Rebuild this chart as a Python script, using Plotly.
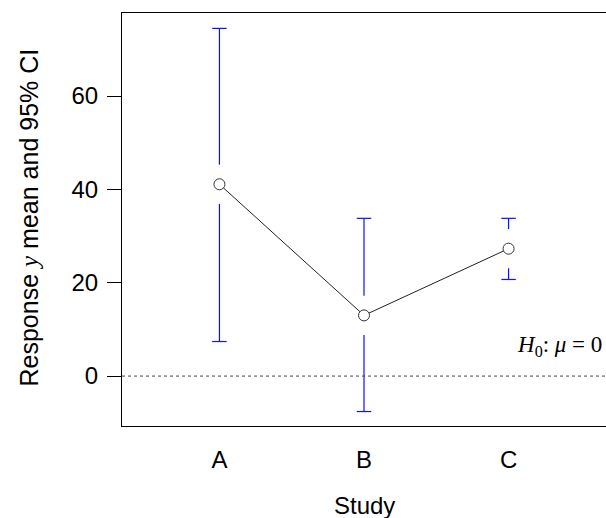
import plotly.graph_objects as go

studies = ["A", "B", "C"]
xpos = [1, 2, 3]
means = [41.1, 13.0, 27.3]
lower = [7.4, -7.6, 20.7]
upper = [74.5, 33.8, 33.8]
yticks = [0, 20, 40, 60]

gap = 4.2      # gap around the point (data units)
capw = 0.05    # half-width of caps (x units)

fig = go.Figure()

# error bars with gaps around the point
ex, ey = [], []
for x, m, lo, up in zip(xpos, means, lower, upper):
    ex += [x, x, None, x - capw, x + capw, None, x, x, None, x - capw, x + capw, None]
    ey += [m + gap, up, None, up, up, None, m - gap, lo, None, lo, lo, None]
fig.add_trace(go.Scatter(x=ex, y=ey, mode="lines", line=dict(color="#1010ff", width=1.2),
                         hoverinfo="skip", showlegend=False))

# connecting line and points
fig.add_trace(go.Scatter(x=xpos, y=means, mode="lines", line=dict(color="#222", width=1),
                         showlegend=False))
fig.add_trace(go.Scatter(x=xpos, y=means, mode="markers",
                         marker=dict(symbol="circle", size=11, color="white",
                                     line=dict(color="#333", width=1)),
                         showlegend=False))

# reference line at 0
fig.add_shape(type="line", xref="paper", x0=0, x1=1, yref="y", y0=0, y1=0,
              line=dict(color="#444", width=1, dash="dot"))

fig.add_annotation(xref="paper", x=1, xanchor="right", xshift=-2, yref="y", y=0,
                   yanchor="bottom", yshift=14, showarrow=False,
                   text="<i>H</i><sub>0</sub>: <i>μ</i> = 0",
                   font=dict(family="Liberation Serif, Times New Roman, serif", size=23, color="black"))

# axis titles
fig.add_annotation(xref="paper", x=0, xshift=-94, xanchor="center", yref="paper", y=0.5,
                   yshift=2, yanchor="middle", textangle=-90, showarrow=False,
                   text="Response <i><span style='font-family:Liberation Serif, serif'>y</span></i> mean and 95% CI",
                   font=dict(family="Liberation Sans, Arial, sans-serif", size=25, color="black"))
fig.add_annotation(xref="paper", x=0.5, xanchor="center", yref="paper", y=0, yshift=-79,
                   yanchor="middle", showarrow=False, text="Study",
                   font=dict(family="Liberation Sans, Arial, sans-serif", size=24, color="black"))

fig.update_layout(
    width=606, height=518,
    margin=dict(l=122, r=0, t=13, b=92),
    plot_bgcolor="white", paper_bgcolor="white",
    font=dict(family="Liberation Sans, Arial, sans-serif", size=24, color="black"),
    xaxis=dict(range=[0.326, 3.674], tickvals=xpos, ticktext=studies, ticks="",
               showgrid=False, zeroline=False, showline=True, mirror=True,
               linecolor="black", linewidth=1, ticklabelstandoff=12),
    yaxis=dict(range=[-10.7, 77.8], tickvals=yticks, ticks="outside", ticklen=14,
               tickcolor="black", showgrid=False, zeroline=False, showline=True,
               linecolor="black", linewidth=1, ticklabelstandoff=4),
)

fig.write_html("out.html", config={"displayModeBar": False},
               post_script="document.body.style.margin='0';document.body.style.overflow='hidden';")
